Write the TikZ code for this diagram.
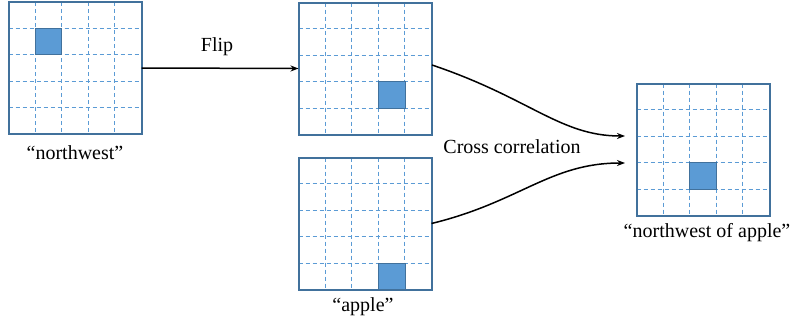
\documentclass[tikz,border=0pt]{standalone}
\usepackage{fontspec}
\setmainfont{Liberation Serif}
\usetikzlibrary{calc,arrows.meta}
\definecolor{frameblue}{HTML}{41719C}
\definecolor{lineblue}{HTML}{5B9BD5}
\definecolor{cellblue}{HTML}{5B9BD5}
\tikzset{
  gridframe/.style={draw=frameblue, line width=2pt, fill=white, minimum width=133pt, minimum height=132pt, inner sep=0pt, outer sep=0pt},
  gridline/.style={draw=lineblue, line width=0.9pt, dash pattern=on 4pt off 3pt},
  cellfill/.style={fill=cellblue, draw=frameblue, line width=0.8pt},
  lbl/.style={font=\fontsize{20}{24}\selectfont, inner sep=0pt},
  conn/.style={draw=black, line width=1.5pt, -{Stealth[length=8pt,width=6pt]}},
}
\newcommand\mygrid[5]{%
  \node[gridframe] (#1) at (#2pt,-#3pt) {};
  \foreach \i in {1,...,4}{
    \draw[gridline] ($(#1.north west)!\i/5!(#1.north east)$) -- ($(#1.south west)!\i/5!(#1.south east)$);
    \draw[gridline] ($(#1.north west)!\i/5!(#1.south west)$) -- ($(#1.north east)!\i/5!(#1.south east)$);
  }
  \path[cellfill] ($(#1.north west)+(#4*26.6pt,-#5*26.4pt)$) rectangle +(26.6pt,-26.4pt);
  \draw[frameblue, line width=2pt] (#1.north west) rectangle (#1.south east);
}
\begin{document}
\begin{tikzpicture}[x=1pt,y=1pt]
\useasboundingbox (0,0) rectangle (791,-324);
\mygrid{g1}{75}{68}{1}{1}
\mygrid{g2}{365}{68.5}{3}{3}
\mygrid{g3}{365}{223.5}{3}{4}
\mygrid{g4}{703}{149.5}{2}{3}
\node[lbl] (l1) at (75,-153) {“northwest”};
\node[lbl] (lflip) at (217,-47) {Flip};
\node[lbl] (l3) at (363,-307) {“apple”};
\node[lbl] (lcc) at (512,-147) {Cross correlation};
\node[lbl] (l4) at (707,-233) {“northwest of apple”};
\coordinate (e1) at (625,-136);
\coordinate (e2) at (625,-163);
\coordinate (s1) at (432,-65);
\draw[conn] (g1.east) -- (g2.west);
\draw[conn] (s1) .. controls (530,-98) and (560,-136) .. (e1);
\draw[conn] (g3.east) .. controls (520,-202) and (550,-163) .. (e2);
\end{tikzpicture}
\end{document}
